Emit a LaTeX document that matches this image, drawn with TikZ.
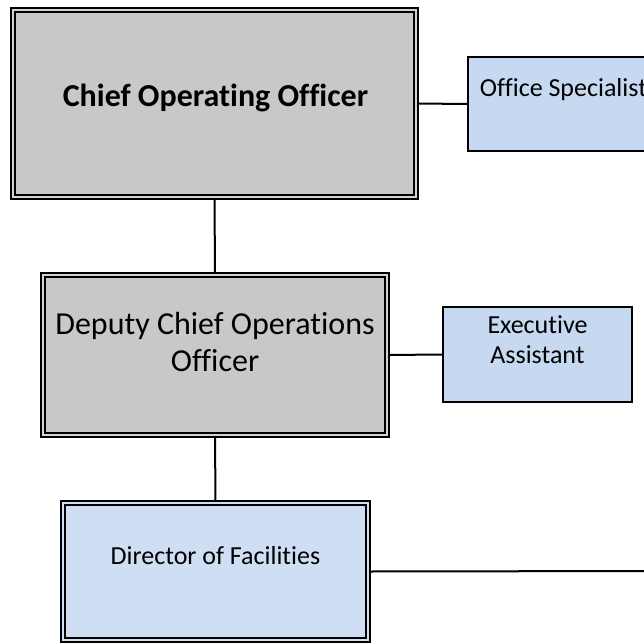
\documentclass[tikz,border=0pt]{standalone}
\usepackage{fontspec}
\setmainfont[RawFeature={-liga}]{Carlito}
\usetikzlibrary{backgrounds}
\definecolor{boxgray}{HTML}{C8C8C8}
\definecolor{boxblue}{HTML}{C6D9F1}
\definecolor{boxlblue}{HTML}{CFDEF3}
\tikzset{
  dblbox/.style={draw=black, line width=1.9pt, double distance=2.2pt, rectangle, inner sep=0pt},
  sglbox/.style={draw=black, line width=2pt, rectangle, inner sep=0pt},
  conn/.style={draw=black, line width=2pt},
  lbl/.style={inner sep=0pt, align=center, text=black},
}
\begin{document}
\begin{tikzpicture}[x=1pt,y=-1pt]
\useasboundingbox (0,0) rectangle (644,644);
\clip (0,0) rectangle (644,644);
% boxes
\node[dblbox, fill=boxgray, double=boxgray!80!white, minimum width=403pt, minimum height=187pt] (coo) at (214.5,103.5) {};
\node[sglbox, fill=boxblue, minimum width=191pt, minimum height=94pt] (off) at (563.5,104) {};
\node[dblbox, fill=boxgray, double=boxgray!80!white, minimum width=344pt, minimum height=160pt] (dcoo) at (215,355) {};
\node[sglbox, fill=boxblue, minimum width=189pt, minimum height=95pt] (ea) at (537.5,354.5) {};
\node[dblbox, fill=boxlblue, double=boxlblue, minimum width=305pt, minimum height=137pt] (dir) at (215.5,571.5) {};
\coordinate (dirend) at (660,571);
% labels
\node[lbl, font=\fontsize{32}{38}\selectfont\bfseries] (coot) at (215.5,97.5) {Chief Operating Officer};
\node[lbl, font=\fontsize{26}{31}\selectfont] (offt) at (563.5,90) {Office Specialist};
\node[lbl, font=\fontsize{32}{37}\selectfont] (dcoot) at (215,341.5) {Deputy Chief Operations\\Officer};
\node[lbl, font=\fontsize{26}{30}\selectfont] (eat) at (537.5,340) {Executive\\Assistant};
\node[lbl, font=\fontsize{26}{31}\selectfont] (dirt) at (215.5,556) {Director of Facilities};
% connectors
\begin{pgfonlayer}{background}
\draw[conn] (coo.south) -- (dcoo.north);
\draw[conn] (coo.east) -- (off.west);
\draw[conn] (dcoo.east) -- (ea.west);
\draw[conn] (dcoo.south) -- (dir.north);
\draw[conn] (dir.east) -- (dirend);
\end{pgfonlayer}
\end{tikzpicture}
\end{document}
